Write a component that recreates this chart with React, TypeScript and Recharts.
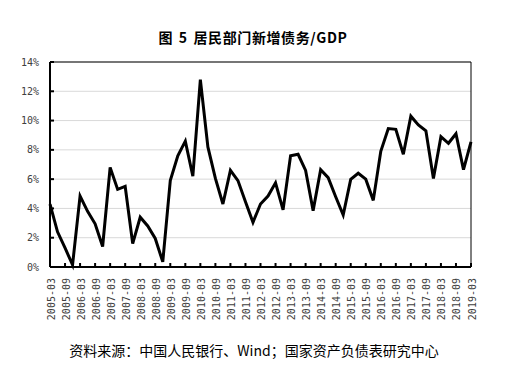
import { LineChart, Line, XAxis, YAxis, CartesianGrid, ReferenceLine } from 'recharts'

const quarters = [
  '2005-03', '2005-06', '2005-09', '2005-12',
  '2006-03', '2006-06', '2006-09', '2006-12',
  '2007-03', '2007-06', '2007-09', '2007-12',
  '2008-03', '2008-06', '2008-09', '2008-12',
  '2009-03', '2009-06', '2009-09', '2009-12',
  '2010-03', '2010-06', '2010-09', '2010-12',
  '2011-03', '2011-06', '2011-09', '2011-12',
  '2012-03', '2012-06', '2012-09', '2012-12',
  '2013-03', '2013-06', '2013-09', '2013-12',
  '2014-03', '2014-06', '2014-09', '2014-12',
  '2015-03', '2015-06', '2015-09', '2015-12',
  '2016-03', '2016-06', '2016-09', '2016-12',
  '2017-03', '2017-06', '2017-09', '2017-12',
  '2018-03', '2018-06', '2018-09', '2018-12',
  '2019-03',
]

// 居民部门新增债务/GDP（%）
const debtRatio = [
  4.3, 2.4, 1.3, 0.15,
  4.85, 3.8, 2.95, 1.4,
  6.8, 5.3, 5.5, 1.6,
  3.4, 2.8, 1.95, 0.35,
  5.9, 7.6, 8.6, 6.2,
  12.8, 8.2, 6.05, 4.3,
  6.6, 5.9, 4.45, 3.05,
  4.3, 4.85, 5.75, 3.9,
  7.6, 7.7, 6.6, 3.85,
  6.65, 6.1, 4.8, 3.55,
  5.98, 6.4, 6.0, 4.55,
  7.9, 9.45, 9.4, 7.7,
  10.3, 9.7, 9.3, 6.05,
  8.9, 8.45, 9.1, 6.65,
  8.55,
]

const yTicks = [0, 2, 4, 6, 8, 10, 12, 14]

const data = quarters.map((q, i) => ({ quarter: q, value: debtRatio[i] }))

const XTick = (props: any) => {
  const { x, y, payload } = props
  return (
    <g>
      <line x1={x} y1={y} x2={x} y2={y - 4} stroke="#000" strokeWidth={2} />
      <text
        transform={`translate(${x + 1},${y + 11}) rotate(-90)`}
        textAnchor="end"
        dominantBaseline="central"
        fontSize={10}
        fontFamily="DejaVu Sans Mono"
        fill="#404040"
      >
        {payload.value}
      </text>
    </g>
  )
}

const YTick = (props: any) => {
  const { x, y, payload } = props
  return (
    <g>
      <line x1={x} y1={y} x2={x + 4} y2={y} stroke="#000" strokeWidth={2} />
      <text
        x={x - 11}
        y={y}
        textAnchor="end"
        dominantBaseline="central"
        fontSize={10}
        fontFamily="DejaVu Sans Mono"
        fill="#404040"
      >
        {`${payload.value}%`}
      </text>
    </g>
  )
}

export default function App() {
  return (
    <div style={{ position: 'absolute', left: 0, top: 0, width: 522, height: 375, background: '#fff' }}>
      <div
        style={{
          position: 'absolute',
          left: 0,
          top: 27,
          width: 506,
          textAlign: 'center',
          fontFamily: '"Noto Sans CJK SC"',
          fontWeight: 'bold',
          fontSize: 14,
          letterSpacing: 0.6,
          wordSpacing: 2,
          lineHeight: '20px',
          color: '#000',
        }}
      >
        图 5 居民部门新增债务/GDP
      </div>
      <div style={{ position: 'absolute', left: 0, top: 0 }}>
        <LineChart
          width={522}
          height={375}
          data={data}
          margin={{ top: 62, right: 51, left: 10, bottom: 58 }}
        >
          <CartesianGrid horizontal vertical={false} stroke="#d9d9d9" strokeWidth={1} />
          <XAxis
            dataKey="quarter"
            interval={1}
            height={50}
            tickSize={0}
            tickMargin={0}
            tickLine={false}
            axisLine={{ stroke: '#000', strokeWidth: 2 }}
            tick={<XTick />}
          />
          <YAxis
            domain={[0, 14]}
            ticks={yTicks}
            width={40}
            tickSize={0}
            tickMargin={0}
            tickLine={false}
            axisLine={{ stroke: '#000', strokeWidth: 2 }}
            tick={<YTick />}
          />
          <ReferenceLine y={14} stroke="#000" strokeWidth={1} />
          <ReferenceLine x="2019-03" stroke="#000" strokeWidth={1} />
          <Line
            type="linear"
            dataKey="value"
            stroke="#000"
            strokeWidth={3}
            dot={false}
            isAnimationActive={false}
          />
        </LineChart>
      </div>
      <div
        style={{
          position: 'absolute',
          left: 0,
          top: 340,
          width: 508,
          textAlign: 'center',
          fontFamily: '"Noto Sans CJK SC"',
          fontSize: 14,
          lineHeight: '20px',
          color: '#000',
        }}
      >
        资料来源：中国人民银行、Wind；国家资产负债表研究中心
      </div>
    </div>
  )
}
